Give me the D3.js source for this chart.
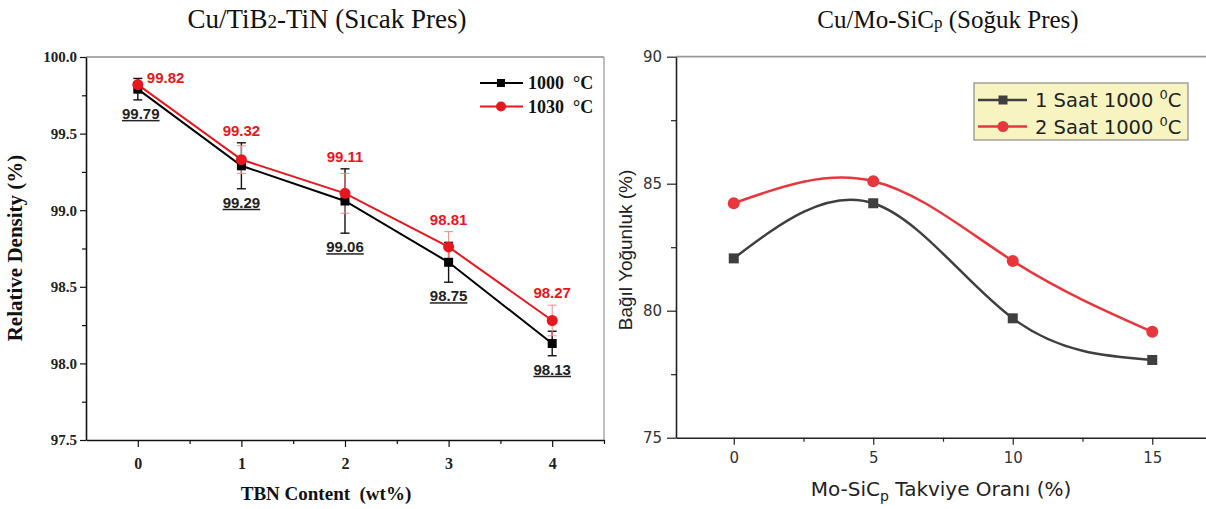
<!DOCTYPE html>
<html>
<head>
<meta charset="utf-8">
<script src="https://cdn.jsdelivr.net/npm/d3@7"></script>
<style>
  body { margin: 0; background: #fff; }
  svg { display: block; }
</style>
</head>
<body>
<svg id="vis" width="1206" height="509"></svg>
<script>
// ---- left panel data (Cu/TiB2-TiN, hot press) ----
const tbnContent = [0, 1, 2, 3, 4];
const density1000 = [99.79, 99.29, 99.06, 98.66, 98.13];
const density1030 = [99.82, 99.33, 99.11, 98.76, 98.28];
const err1000 = [0.07, 0.15, 0.21, 0.13, 0.08];
const err1030 = [0.02, 0.09, 0.13, 0.10, 0.10];
const label1000 = ["99.79", "99.29", "99.06", "98.75", "98.13"];
const label1030 = ["99.82", "99.32", "99.11", "98.81", "98.27"];
const leftYTicks = [97.5, 98.0, 98.5, 99.0, 99.5, 100.0];

// ---- right panel data (Cu/Mo-SiCp, cold press) ----
const moSicContent = [0, 5, 10, 15];
const density1h = [82.06, 84.23, 79.70, 78.06];
const density2h = [84.23, 85.10, 81.96, 79.17];
const rightYTicks = [75, 80, 85, 90];
const rightXTicks = [0, 5, 10, 15];

const RED = "#e8161e";
const RED2 = "#e8363d";
const GREY = "#3f3f3f";

const svg = d3.select("#vis");

/* ================= LEFT PANEL ================= */
const xL = d3.scaleLinear().domain([-0.5, 4.5]).range([86, 604]);
const yL = d3.scaleLinear().domain([97.5, 100]).range([440, 57]);
const left = svg.append("g");

// frame (top and right grey)
left.append("line").attr("x1", 86).attr("x2", 604).attr("y1", 57).attr("y2", 57)
    .attr("stroke", "#aaa").attr("stroke-width", 2);
left.append("line").attr("x1", 604).attr("x2", 604).attr("y1", 57).attr("y2", 440)
    .attr("stroke", "#aaa").attr("stroke-width", 1.5);

// minor ticks
left.append("g").attr("transform", "translate(86,0)")
    .call(d3.axisLeft(yL).tickValues(leftYTicks.slice(0, -1).map(d => d + 0.25)).tickSize(4).tickFormat(""))
    .call(g => g.select(".domain").remove());
left.append("g").attr("transform", "translate(0,440)")
    .call(d3.axisBottom(xL).tickValues(tbnContent.map(d => d + 0.5)).tickSize(4).tickFormat(""))
    .call(g => g.select(".domain").remove());

const yAxL = left.append("g").attr("transform", "translate(86,0)")
    .call(d3.axisLeft(yL).tickValues(leftYTicks).tickFormat(d3.format(".1f")).tickSize(6).tickSizeOuter(0).tickPadding(3));
const xAxL = left.append("g").attr("transform", "translate(0,440)")
    .call(d3.axisBottom(xL).tickValues(tbnContent).tickFormat(d3.format("d")).tickSize(7).tickSizeOuter(0).tickPadding(11));
[yAxL, xAxL].forEach(a => {
  a.selectAll(".domain").attr("stroke", "#111").attr("stroke-width", 1.6);
  a.selectAll("text").attr("font-family", "Liberation Serif, Times New Roman, serif")
      .attr("font-weight", "bold").attr("font-size", 15).attr("fill", "#222");
});
xAxL.selectAll("text").attr("font-size", 16);
left.selectAll(".tick line").attr("stroke", "#111").attr("stroke-width", 1.2);

// axis titles
left.append("text")
    .attr("transform", "translate(22,248) rotate(-90)")
    .attr("text-anchor", "middle")
    .attr("font-family", "Liberation Serif, serif").attr("font-weight", "bold").attr("font-size", 21)
    .attr("fill", "#111")
    .text("Relative Density (%)");
left.append("text")
    .attr("x", 326).attr("y", 500).attr("text-anchor", "middle")
    .attr("font-family", "Liberation Serif, serif").attr("font-weight", "bold").attr("font-size", 19)
    .attr("fill", "#111").attr("xml:space", "preserve")
    .text("TBN Content  (wt%)");

// title
const tL = svg.append("text").attr("x", 327).attr("y", 28).attr("text-anchor", "middle")
    .attr("font-family", "Liberation Serif, serif").attr("font-size", 27).attr("fill", "#111");
tL.append("tspan").text("Cu/TiB");
tL.append("tspan").attr("font-size", 19).text("2");
tL.append("tspan").text("-TiN (Sıcak Pres)");

// error bars
function errorBars(g, vals, errs, color, width) {
  const eb = g.append("g").attr("stroke", color).attr("stroke-width", width);
  tbnContent.forEach((x, i) => {
    const cx = xL(x), top = yL(vals[i] + errs[i]), bot = yL(vals[i] - errs[i]);
    eb.append("line").attr("x1", cx).attr("x2", cx).attr("y1", top).attr("y2", bot);
    eb.append("line").attr("x1", cx - 4.5).attr("x2", cx + 4.5).attr("y1", top).attr("y2", top);
    eb.append("line").attr("x1", cx - 4.5).attr("x2", cx + 4.5).attr("y1", bot).attr("y2", bot);
  });
}
errorBars(left, density1000, err1000, "#111", 1.4);
errorBars(left, density1030, err1030, "#f08a8a", 1);

const lineL = d3.line().x((d, i) => xL(tbnContent[i])).y(d => yL(d));
left.append("path").datum(density1000).attr("d", lineL)
    .attr("fill", "none").attr("stroke", "#000").attr("stroke-width", 2);
left.append("path").datum(density1030).attr("d", lineL)
    .attr("fill", "none").attr("stroke", RED).attr("stroke-width", 2);

left.selectAll(".sq").data(density1000).enter().append("rect")
    .attr("x", (d, i) => xL(tbnContent[i]) - 4.5).attr("y", d => yL(d) - 4.5)
    .attr("width", 9).attr("height", 9).attr("fill", "#000");
left.selectAll(".ci").data(density1030).enter().append("circle")
    .attr("cx", (d, i) => xL(tbnContent[i])).attr("cy", d => yL(d))
    .attr("r", 5.5).attr("fill", RED);

// value labels
const lblFont = "Liberation Sans, Arial, sans-serif";
left.selectAll(".lb").data(label1000).enter().append("text")
    .attr("x", (d, i) => xL(tbnContent[i]) + (i === 0 ? 3 : 0))
    .attr("y", (d, i) => yL(density1000[i] - err1000[i]) + 19)
    .attr("text-anchor", "middle")
    .attr("font-family", lblFont).attr("font-weight", "bold").attr("font-size", 15)
    .attr("fill", "#222").style("text-decoration", "underline")
    .text(d => d);
left.selectAll(".lr").data(label1030).enter().append("text")
    .attr("x", (d, i) => i === 0 ? xL(tbnContent[i]) + 9 : xL(tbnContent[i]))
    .attr("y", (d, i) => i === 0 ? yL(density1030[i]) - 2
        : yL(Math.max(density1030[i] + err1030[i], density1000[i] + err1000[i])) - 7)
    .attr("text-anchor", (d, i) => i === 0 ? "start" : "middle")
    .attr("font-family", lblFont).attr("font-weight", "bold").attr("font-size", 15)
    .attr("fill", RED)
    .text(d => d);

// legend
const legL = left.append("g");
[["1000", "#000", "rect"], ["1030", RED, "circle"]].forEach((s, i) => {
  const yy = 83 + i * 23.5;
  legL.append("line").attr("x1", 480).attr("x2", 523).attr("y1", yy).attr("y2", yy)
      .attr("stroke", s[1]).attr("stroke-width", 2);
  if (s[2] === "rect") {
    legL.append("rect").attr("x", 497).attr("y", yy - 4).attr("width", 8).attr("height", 8).attr("fill", s[1]);
  } else {
    legL.append("circle").attr("cx", 501).attr("cy", yy).attr("r", 5).attr("fill", s[1]);
  }
  legL.append("text").attr("x", 528).attr("y", yy + 6)
      .attr("font-family", "Liberation Serif, serif").attr("font-weight", "bold").attr("font-size", 18)
      .attr("fill", "#111").attr("xml:space", "preserve")
      .text(s[0] + "  °C");
});

/* ================= RIGHT PANEL ================= */
const xR = d3.scaleLinear().domain([-2.07, 17]).range([676, 676 + 19.07 * 27.9]);
const yR = d3.scaleLinear().domain([75, 90]).range([437.7, 56.7]);
const right = svg.append("g");
const sansR = "DejaVu Sans, sans-serif";

right.append("line").attr("x1", 676).attr("x2", 1206).attr("y1", 56.7).attr("y2", 56.7)
    .attr("stroke", "#999").attr("stroke-width", 1.8);

right.append("g").attr("transform", "translate(676,0)")
    .call(d3.axisLeft(yR).tickValues(rightYTicks.slice(0, -1).map(d => d + 2.5)).tickSize(5).tickFormat(""))
    .call(g => g.select(".domain").remove());
right.append("g").attr("transform", "translate(0,437.7)")
    .call(d3.axisBottom(xR).tickValues(rightXTicks.map(d => d + 2.5)).tickSize(4).tickFormat(""))
    .call(g => g.select(".domain").remove());

const yAxR = right.append("g").attr("transform", "translate(676,0)")
    .call(d3.axisLeft(yR).tickValues(rightYTicks).tickSize(9).tickSizeOuter(0).tickPadding(5));
const xAxR = right.append("g").attr("transform", "translate(0,437.7)")
    .call(d3.axisBottom(xR).tickValues(rightXTicks).tickSize(7).tickSizeOuter(0).tickPadding(8));
[yAxR, xAxR].forEach(a => {
  a.selectAll(".domain").attr("stroke", "#222").attr("stroke-width", 1.6);
  a.selectAll("text").attr("font-family", sansR).attr("font-size", 15).attr("fill", "#333");
});
right.selectAll(".tick line").attr("stroke", "#222").attr("stroke-width", 1.2);

right.append("text")
    .attr("transform", "translate(632,250) rotate(-90)")
    .attr("text-anchor", "middle")
    .attr("font-family", "Liberation Sans, Arial, sans-serif").attr("font-size", 19).attr("fill", "#222")
    .text("Bağıl Yoğunluk (%)");
const xtR = right.append("text").attr("x", 941).attr("y", 496).attr("text-anchor", "middle")
    .attr("font-family", sansR).attr("font-size", 20).attr("fill", "#222");
xtR.append("tspan").text("Mo-SiC");
xtR.append("tspan").attr("font-size", 14).attr("dy", 5).text("p");
xtR.append("tspan").attr("dy", -5).text(" Takviye Oranı (%)");

const tR = svg.append("text").attr("x", 948).attr("y", 28).attr("text-anchor", "middle")
    .attr("font-family", "Liberation Serif, serif").attr("font-size", 25).attr("fill", "#111");
tR.append("tspan").text("Cu/Mo-SiC");
tR.append("tspan").attr("font-size", 17).text("p");
tR.append("tspan").text(" (Soğuk Pres)");

const lineR = d3.line().curve(d3.curveNatural).x((d, i) => xR(moSicContent[i])).y(d => yR(d));
right.append("path").datum(density1h).attr("d", lineR)
    .attr("fill", "none").attr("stroke", GREY).attr("stroke-width", 2.5);
right.append("path").datum(density2h).attr("d", lineR)
    .attr("fill", "none").attr("stroke", RED2).attr("stroke-width", 2.5);
right.selectAll(".sq").data(density1h).enter().append("rect")
    .attr("x", (d, i) => xR(moSicContent[i]) - 5).attr("y", d => yR(d) - 5)
    .attr("width", 10).attr("height", 10).attr("fill", GREY);
right.selectAll(".ci").data(density2h).enter().append("circle")
    .attr("cx", (d, i) => xR(moSicContent[i])).attr("cy", d => yR(d))
    .attr("r", 6).attr("fill", RED2);

// legend box
const legR = right.append("g");
legR.append("rect").attr("x", 974).attr("y", 83).attr("width", 214).attr("height", 57)
    .attr("fill", "#f7f4c2").attr("stroke", "#8a8a8a").attr("stroke-width", 1.2);
[["1", GREY, "rect"], ["2", RED2, "circle"]].forEach((s, i) => {
  const yy = 100 + i * 26.5;
  legR.append("line").attr("x1", 978).attr("x2", 1027).attr("y1", yy).attr("y2", yy)
      .attr("stroke", s[1]).attr("stroke-width", 2.5);
  if (s[2] === "rect") {
    legR.append("rect").attr("x", 998.5).attr("y", yy - 4.5).attr("width", 9).attr("height", 9).attr("fill", s[1]);
  } else {
    legR.append("circle").attr("cx", 1003).attr("cy", yy).attr("r", 5.5).attr("fill", s[1]);
  }
  const t = legR.append("text").attr("x", 1035).attr("y", yy + 7)
      .attr("font-family", sansR).attr("font-size", 19.5).attr("fill", "#222");
  t.append("tspan").text(s[0] + " Saat 1000 ");
  t.append("tspan").attr("font-size", 13).attr("dy", -8).text("0");
  t.append("tspan").attr("dy", 8).text("C");
});
</script>
</body>
</html>
